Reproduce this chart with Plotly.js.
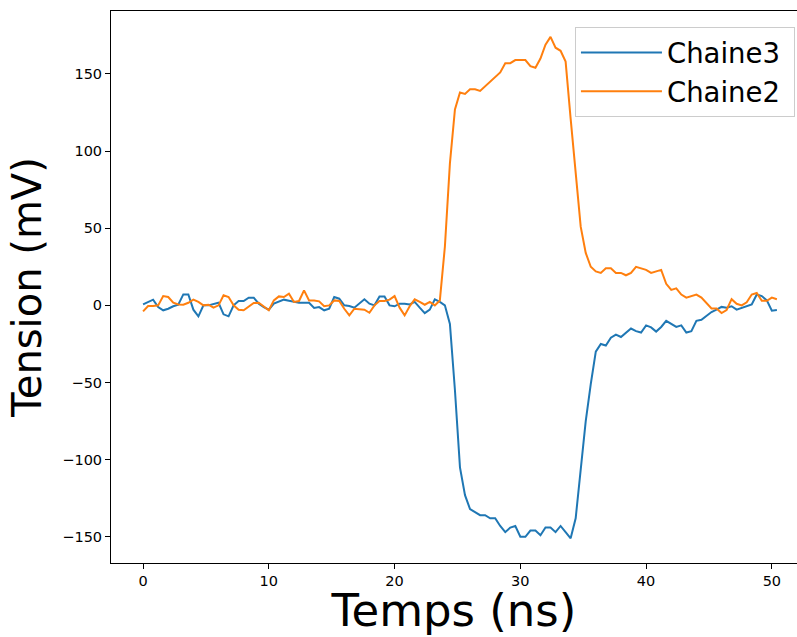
<!DOCTYPE html>
<html>
<head>
<meta charset="utf-8">
<script src="https://cdn.plot.ly/plotly-3.0.1.min.js"></script>
<style>html,body{margin:0;padding:0;background:#fff;}#chart{width:797px;height:637px;}</style>
</head>
<body>
<div id="chart"></div>
<script>
// Time step 0.4 ns, 127 samples (0 .. 50.4 ns)
const tStep = 0.4;
const nSamples = 127;
const temps = Array.from({length: nSamples}, (_, i) => +(i * tStep).toFixed(2));

const chaine3 = [
  0.6, 2.2, 3.7, -1.1, -3.2, -2.2, -0.6, 0.4, 7.1, 7.1,
  -2.8, -7.1, 0, 0, 1.1, 1.7, -5.8, -7.1, 0, 2.8,
  2.8, 5, 5, 1.1, -1.1, -2.8, 1.1, 2.2, 3.7, 3.0,
  2.2, 1.7, 1.7, 1.7, -1.7, -1.1, -3.2, -2.2, 5.4, 4.3,
  0, -0.4, -1.5, 1.1, 3.9, 1.1, 0, 5.8, 5.8, 0,
  -0.6, 1.1, 1.1, 0.6, 2.2, -1.5, -5, -2.8, 3.9, 2.2,
  0, -12, -55, -105, -123, -132, -134, -136, -136, -138,
  -138, -143, -147, -144, -143, -150, -150, -146, -146, -149,
  -144, -144, -147, -143, -147, -151, -138, -107, -75, -51,
  -30, -25, -26, -21, -19, -20.5, -17.6, -15, -16.7, -17.6,
  -13, -14.3, -17, -14, -10, -12.3, -14, -13, -17.6, -16.7,
  -10, -9.3, -6.5, -4.3, -2.8, -1, -1.5, -0.6, -2.8, -1.7,
  -0.4, 0.6, 7, 6, 3.2, -3.5, -3
];

const chaine2 = [
  -3.9, -0.4, -0.4, 0, 6, 5.4, 1.7, 0.6, 0.4, 1.7,
  3.7, 2.2, 0, 0.4, -1.5, 0, 6.5, 5.4, 0, -2.8,
  -3.2, -0.6, 1.5, 1.7, -0.6, -3.2, 3.2, 5.8, 5.4, 7.6,
  2.2, 2.8, 9.7, 3.2, 3.2, 2.6, -0.6, 0, 3.2, 2.8,
  -2.2, -6.5, -2.2, -2.6, -2.8, -4.8, 0, 2.8, 2.8, 3.7,
  6, -1.5, -6.5, -0.6, 3.9, 2.2, 0.4, 2.2, 0, 3.2,
  38, 92, 127, 138, 137, 140, 140, 139, 142, 145,
  148, 151, 157, 157, 159, 159, 159, 155, 154, 160,
  169, 174, 167, 165, 158, 121, 88, 51, 34, 25,
  22, 21, 24, 24, 21, 21, 19.5, 21, 25, 24,
  23, 21, 22, 23, 14, 10, 11, 7, 5, 6,
  7, 5, 1.5, -2, -2, -5, -3, 4, 1, 0,
  2, 7, 8, 3, 3, 5, 4
];

const seriesNames = ['Chaine3', 'Chaine2'];
const xTicks = [0, 10, 20, 30, 40, 50];
const yTicks = [-150, -100, -50, 0, 50, 100, 150];

const FONT = '"DejaVu Sans", "Liberation Sans", sans-serif';

const traces = [
  {x: temps, y: chaine3, type: 'scatter', mode: 'lines', name: seriesNames[0] + '\u00a0',
   line: {color: '#1f77b4', width: 2}},
  {x: temps, y: chaine2, type: 'scatter', mode: 'lines', name: seriesNames[1] + '\u00a0',
   line: {color: '#ff7f0e', width: 2}}
];

const axisCommon = {
  showline: true, mirror: true, linecolor: '#000', linewidth: 1,
  ticks: 'outside', ticklen: 5, tickwidth: 1, tickcolor: '#000',
  showgrid: false, zeroline: false,
  tickfont: {family: FONT, size: 14.5, color: '#000'},
  automargin: false
};

const layout = {
  width: 797, height: 637,
  paper_bgcolor: '#fff', plot_bgcolor: '#fff',
  margin: {l: 111, r: 0, t: 11, b: 74},
  font: {family: FONT, color: '#000'},
  showlegend: true,
  legend: {
    x: 0.997, y: 0.971, xanchor: 'right', yanchor: 'top',
    bgcolor: 'rgba(255,255,255,0.8)', bordercolor: '#cccccc', borderwidth: 1,
    font: {family: FONT, size: 27.5, color: '#000'},
    itemwidth: 81, tracegroupgap: 0
  },
  xaxis: Object.assign({}, axisCommon, {
    range: [-2.55, 52.0],
    tickmode: 'array', tickvals: xTicks, ticktext: xTicks.map(String),
    title: {text: 'Temps (ns)', font: {family: FONT, size: 45, color: '#000'}, standoff: 12}
  }),
  yaxis: Object.assign({}, axisCommon, {
    range: [-167, 190.8],
    tickmode: 'array', tickvals: yTicks,
    title: {text: 'Tension (mV)', font: {family: FONT, size: 40, color: '#000'}, standoff: 8}
  })
};

Plotly.newPlot('chart', traces, layout, {displayModeBar: false, staticPlot: true});
</script>
</body>
</html>
